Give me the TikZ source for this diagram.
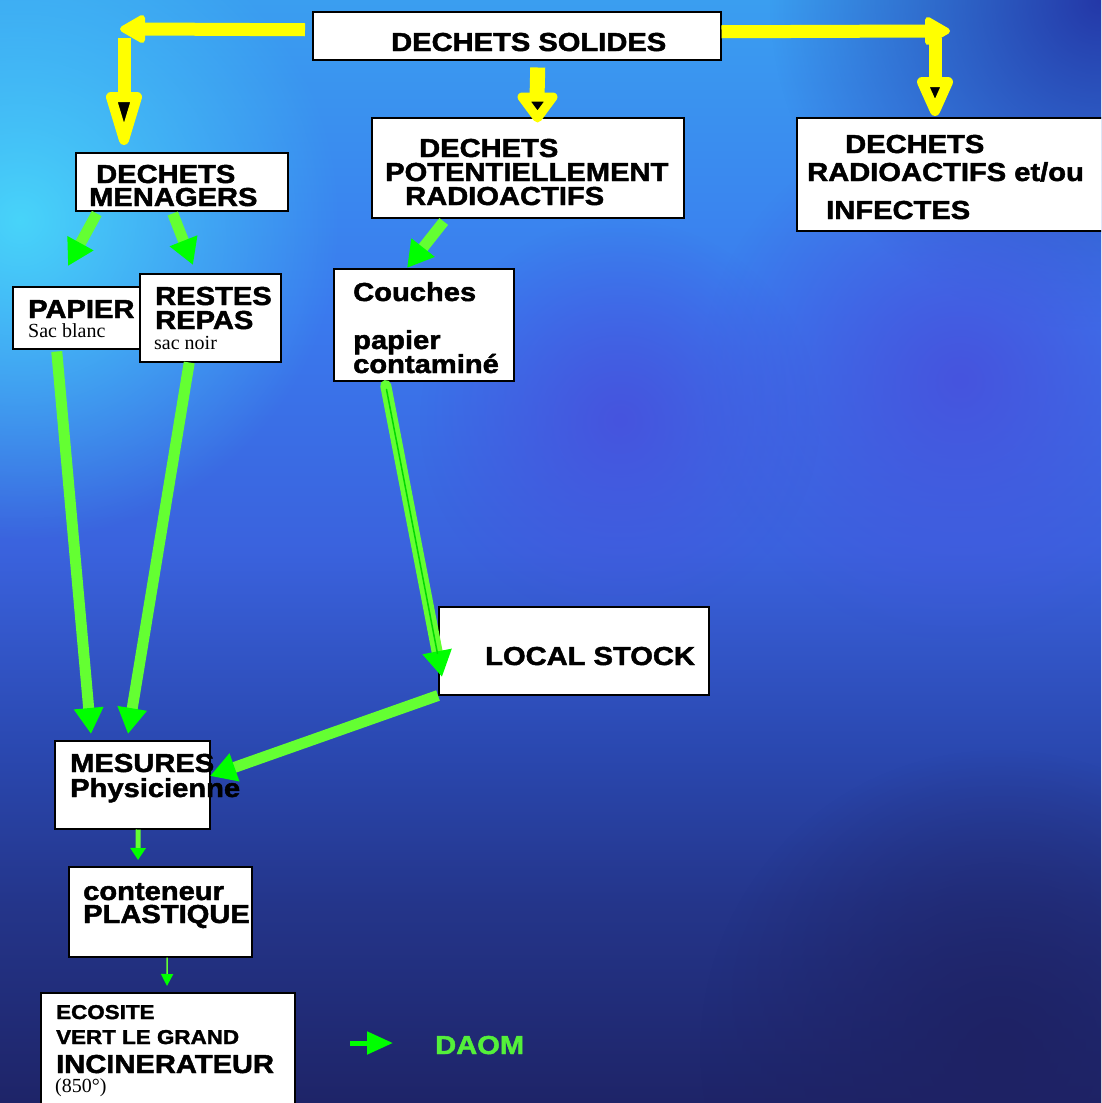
\documentclass[tikz,border=0pt]{standalone}
\usepackage{fontspec}
\setmainfont{Liberation Sans}
\newfontfamily\bx{Liberation Sans}[FakeStretch=1.12, BoldFeatures={FakeBold=1.8}]
\newfontfamily\sr{Liberation Serif}
\usetikzlibrary{arrows.meta,fadings}
\tikzfading[name=blobfade, inner color=transparent!0, outer color=transparent!100]
\definecolor{lgreen}{RGB}{100,255,50}
\definecolor{hgreen}{RGB}{0,255,0}
\definecolor{daom}{RGB}{84,240,58}
\definecolor{yel}{RGB}{255,255,0}
\definecolor{bgCyan}{RGB}{72,212,250}
\definecolor{bgDark}{RGB}{36,56,168}
\definecolor{bgPurple}{RGB}{70,84,222}
\definecolor{bgNavy}{RGB}{30,34,100}
\definecolor{sA}{RGB}{30,36,104}
\definecolor{sB}{RGB}{36,53,138}
\definecolor{sC}{RGB}{42,72,176}
\definecolor{sD}{RGB}{58,98,221}
\definecolor{sE}{RGB}{58,122,238}
\definecolor{sF}{RGB}{58,158,240}
\pgfdeclareverticalshading{bgshade}{100bp}{%
  color(0bp)=(sA);
  color(25bp)=(sA);
  color(34bp)=(sB);
  color(41bp)=(sC);
  color(50bp)=(sD);
  color(61bp)=(sE);
  color(75bp)=(sF);
  color(100bp)=(sF)}
\begin{document}
\begin{tikzpicture}[x=1pt,y=-1pt,
  box/.style={draw=black, line width=1.5pt, fill=white, inner sep=0pt, anchor=north west},
  lbl/.style={anchor=base west, inner sep=0pt, text=black, font=\bx\bfseries\fontsize{26}{24}\selectfont},
  smalllbl/.style={anchor=base west, inner sep=0pt, text=black, font=\bx\bfseries\fontsize{20}{20}\selectfont},
  seriflbl/.style={anchor=base west, inner sep=0pt, text=black, font=\sr\fontsize{20}{20}\selectfont},
  yline/.style={draw=yel, line width=13pt},
  yhead/.style={fill=black, draw=yel, line width=10pt, line join=round},
  ycorner/.style={fill=yel, draw=yel, line width=6pt, line join=round},
  garrow/.style={draw=lgreen, line width=11pt, -{Triangle[length=26pt,width=28pt,color=hgreen]}},
  gthin/.style={draw=lgreen, line width=5pt, -{Triangle[length=12pt,width=15pt,color=hgreen]}},
  gthinner/.style={draw=lgreen, line width=1.5pt, -{Triangle[length=12pt,width=12pt,color=hgreen]}}
]
\useasboundingbox (0,0) rectangle (1101,1103);
\clip (0,0) rectangle (1101,1103);
% background
\shade[shading=bgshade] (0,0) rectangle (1101,1103);
\fill[bgCyan, path fading=blobfade] (20,220) circle[radius=320pt];
\fill[bgDark, path fading=blobfade] (1100,0) circle[radius=330pt];
\fill[bgPurple, path fading=blobfade] (960,380) circle[radius=260pt];
\fill[bgPurple, path fading=blobfade] (620,420) circle[radius=200pt];
\fill[bgNavy, path fading=blobfade] (1000,1050) circle[radius=300pt];

% boxes
\node[box, minimum width=408pt, minimum height=48pt] (solides) at (312,11) {};
\node[box, minimum width=312pt, minimum height=100pt] (potent) at (371,117) {};
\node[box, minimum width=330pt, minimum height=113pt] (radio) at (796,117) {};
\node[box, minimum width=212pt, minimum height=58pt] (menag) at (75,152) {};
\node[box, minimum width=138pt, minimum height=62pt] (papier) at (12,286) {};
\node[box, minimum width=141pt, minimum height=88pt] (restes) at (139,273) {};
\node[box, minimum width=180pt, minimum height=112pt] (couches) at (333,268) {};
\node[box, minimum width=270pt, minimum height=88pt] (local) at (438,606) {};
\node[box, minimum width=155pt, minimum height=88pt] (mesures) at (54,740) {};
\node[box, minimum width=183pt, minimum height=90pt] (conten) at (68,866) {};
\node[box, minimum width=254pt, minimum height=130pt] (ecosite) at (40,992) {};

% texts
\node[lbl] (t1) at (391,51) {DECHETS SOLIDES};
\node[lbl] (t2a) at (419,157) {DECHETS};
\node[lbl] (t2b) at (385,181) {POTENTIELLEMENT};
\node[lbl] (t2c) at (405,205) {RADIOACTIFS};
\node[lbl] (t3a) at (845,153) {DECHETS};
\node[lbl] (t3b) at (807,181) {RADIOACTIFS et/ou};
\node[lbl] (t3c) at (826,219) {INFECTES};
\node[lbl] (t4a) at (96,183) {DECHETS};
\node[lbl] (t4b) at (89,206) {MENAGERS};
\node[lbl] (t5a) at (28,318) {PAPIER};
\node[seriflbl] (t5b) at (28,337) {Sac blanc};
\node[lbl] (t6a) at (155,305) {RESTES};
\node[lbl] (t6b) at (155,329) {REPAS};
\node[seriflbl] (t6c) at (154,349) {sac noir};
\node[lbl] (t7a) at (353,301) {Couches};
\node[lbl] (t7b) at (353,349) {papier};
\node[lbl] (t7c) at (353,373) {contaminé};
\node[lbl] (t8) at (485,665) {LOCAL STOCK};
\node[lbl] (t9a) at (70,772) {MESURES};
\node[lbl] (t9b) at (70,797) {Physicienne};
\node[lbl] (t10a) at (83,900) {conteneur};
\node[lbl] (t10b) at (83,923) {PLASTIQUE};
\node[smalllbl] (t11a) at (56,1019) {ECOSITE};
\node[smalllbl] (t11b) at (56,1044) {VERT LE GRAND};
\node[lbl] (t11c) at (56,1073) {INCINERATEUR};
\node[seriflbl] (t11d) at (55,1092) {(850°)};
\node[lbl, text=daom] (daom) at (435,1054) {DAOM};

% yellow arrows
\coordinate (cl) at (124,29);
\coordinate (cr) at (935,31);
\draw[yline] ([xshift=-7pt,yshift=6pt]solides.west) -- ([xshift=16pt]cl);
\filldraw[ycorner] (142,18) -- (142,40) -- (123,29) -- cycle;
\draw[yline] ([yshift=-9pt]cl) -- (124,98);
\filldraw[yhead] (111,97) -- (137,97) -- (124,140) -- cycle;

\draw[yline, line width=15pt] ([xshift=21pt,yshift=-7pt]solides.south) -- (537,98);
\filldraw[yhead, line width=9pt] (522,97) -- (553,97) -- (537.5,118) -- cycle;

\draw[yline] ([yshift=4pt]solides.east) -- ([xshift=-7pt]cr);
\filldraw[ycorner] (928,20) -- (928,42) -- (947,31) -- cycle;
\draw[yline] ([yshift=-7pt]cr) -- (935,83);
\filldraw[yhead] (922,82) -- (948,82) -- (935,111) -- cycle;

% green arrows
\draw[garrow] ([xshift=-85pt,yshift=-2pt]menag.south) -- (68,266);
\draw[garrow] ([xshift=-9pt,yshift=-2pt]menag.south) -- (193,265);
\draw[garrow] ([xshift=-84pt,yshift=-3pt]potent.south) -- (407,268);
\draw[garrow] ([xshift=-25pt,yshift=-2pt]papier.south) -- (91,734);
\draw[garrow] ([xshift=-21pt]restes.south) -- (128,734);
\draw[garrow, line cap=round, postaction={draw=hgreen!85!black, line width=1.5pt, -, shorten >=24pt, shorten <=4pt}] ([xshift=-38pt,yshift=-4pt]couches.south) -- (442,677);
\draw[garrow] (local.south west) -- (210,776);
\draw[gthin] ([xshift=6pt]mesures.south) -- (138,860);
\draw[gthinner] ([xshift=7pt]conten.south) -- (167,986);
\coordinate (lgA) at (350,1043);
\coordinate (lgB) at (393,1043);
\draw[draw=hgreen, line width=5pt, -{Triangle[length=26pt,width=22pt,color=hgreen]}] (lgA) -- (lgB);
\end{tikzpicture}
\end{document}
